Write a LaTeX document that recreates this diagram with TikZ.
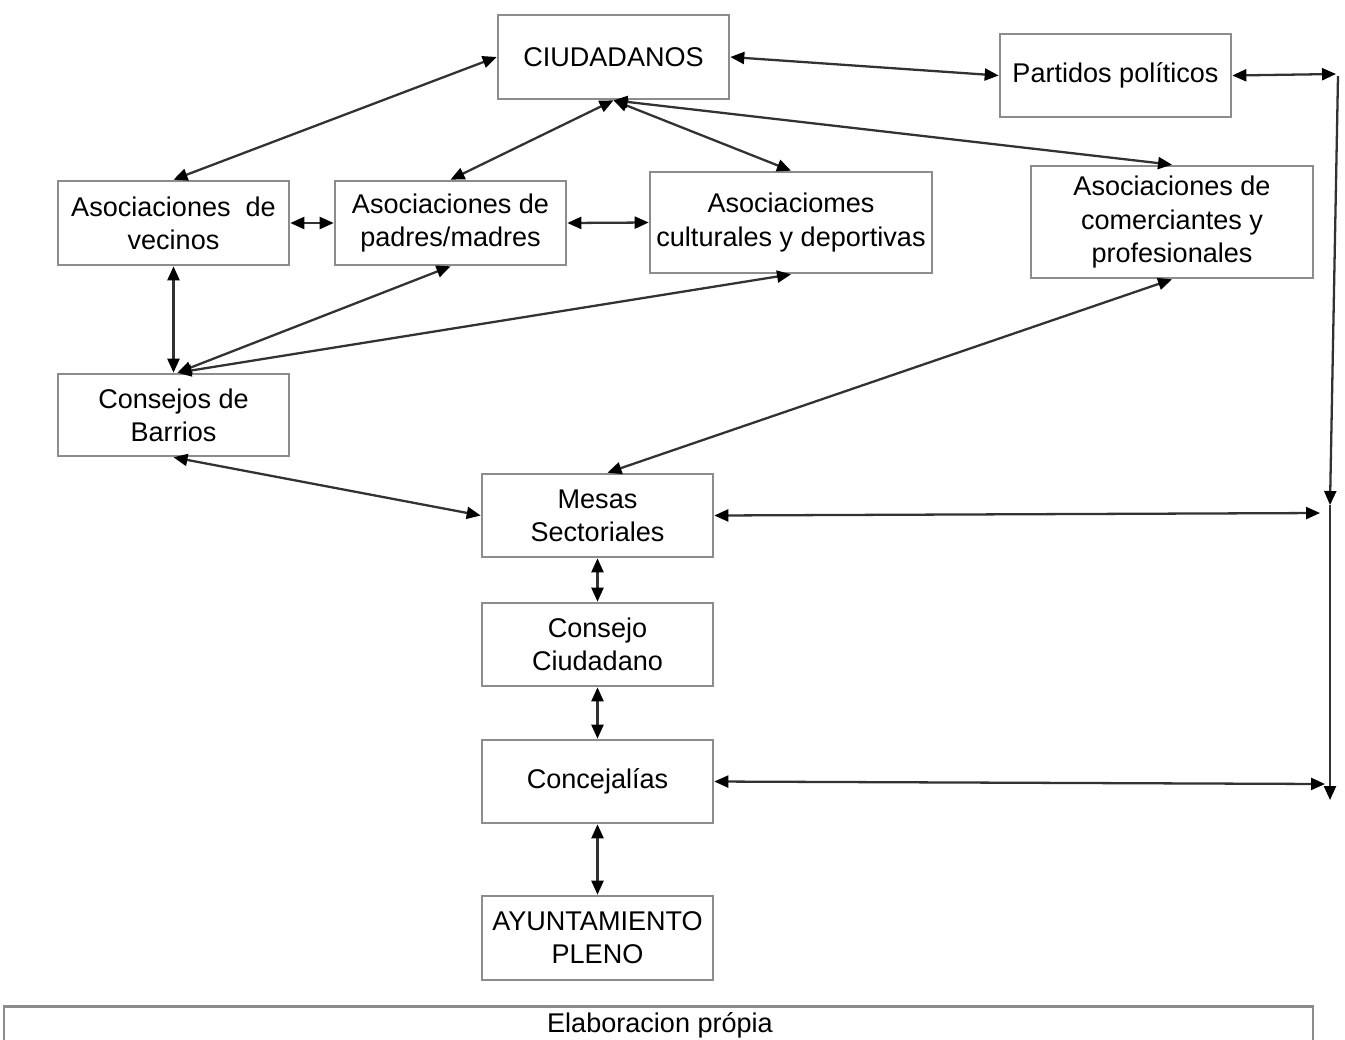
\documentclass[tikz,border=0pt]{standalone}
\usepackage{fontspec}
\setmainfont{Liberation Sans}
\usetikzlibrary{arrows.meta,calc}
\definecolor{boxgray}{RGB}{140,140,140}
\definecolor{linegray}{RGB}{50,50,50}
\tikzset{
  box/.style={draw=boxgray, line width=1.5pt, fill=white, align=center, inner sep=0pt,
    font=\fontsize{15.4}{18.8}\selectfont},
  link/.style={draw=linegray, line width=1.3pt, {Triangle[length=0.28cm,width=0.24cm,black]}-{Triangle[length=0.28cm,width=0.24cm,black]}},
  onelink/.style={draw=linegray, line width=1.3pt, -{Triangle[length=0.28cm,width=0.24cm,black]}}
}
\begin{document}
\begin{tikzpicture}[x=0.02cm,y=-0.02cm]
\clip (0,0) rectangle (1345,1039);
\fill[white] (0,0) rectangle (1345,1039);
\node[box, minimum width=231*0.02cm, minimum height=84*0.02cm] (ciud) at (613.5,57) {CIUDADANOS};
\node[box, minimum width=231*0.02cm, minimum height=83*0.02cm] (part) at (1115.5,75.5) {Partidos políticos};
\node[box, minimum width=231*0.02cm, minimum height=84*0.02cm] (vec) at (173.5,223) {Asociaciones\ \ de\\vecinos};
\node[box, minimum width=231*0.02cm, minimum height=84*0.02cm] (pad) at (450.5,223) {Asociaciones de\\padres/madres};
\node[box, minimum width=282*0.02cm, minimum height=101*0.02cm] (cult) at (791,222.5) {Asociaciomes\\culturales y deportivas};
\node[box, minimum width=282*0.02cm, minimum height=112*0.02cm] (com) at (1172,222) {Asociaciones de\\comerciantes y\\profesionales};
\node[box, minimum width=231*0.02cm, minimum height=82*0.02cm] (barr) at (173.5,415) {Consejos de\\Barrios};
\node[box, minimum width=231*0.02cm, minimum height=83*0.02cm] (mesas) at (597.5,515.5) {Mesas\\Sectoriales};
\node[box, minimum width=231*0.02cm, minimum height=83*0.02cm] (cc) at (597.5,644.5) {Consejo\\Ciudadano};
\node[box, minimum width=231*0.02cm, minimum height=83*0.02cm] (conc) at (597.5,781.5) {Concejalías};
\node[box, minimum width=231*0.02cm, minimum height=84*0.02cm] (ayun) at (597.5,938) {AYUNTAMIENTO\\PLENO};
\node[box, minimum width=1309*0.02cm, minimum height=80*0.02cm, anchor=north] (elab) at (658.5,1005) {};
\node[font=\fontsize{15.4}{18.8}\selectfont] (elabt) at (660,1025) {Elaboracion própia};

\coordinate (r1) at (1336,74);
\coordinate (r2) at (1338,76);
\coordinate (r3) at (1330,505);
\coordinate (r4) at (1330,800);
\coordinate (m1) at (1320,513);
\coordinate (c1) at (1325,784);

\draw[link] (ciud.west) -- (vec.north);
\draw[link] (ciud.east) -- (part.west);
\draw[link] (ciud.south) -- (pad.north);
\draw[link] (ciud.south) -- (cult.north);
\draw[link] (ciud.south) -- (com.north);
\draw[link] (vec.east) -- (pad.west);
\draw[link] (pad.east) -- (cult.west);
\draw[link] (vec.south) -- (barr.north);
\draw[link] ($(barr.north)+(4,0)$) -- (pad.south);
\draw[link] ($(barr.north)+(4,0)$) -- (cult.south);
\draw[link] (barr.south) -- (mesas.west);
\draw[link] ($(mesas.north)+(10,0)$) -- (com.south);
\draw[link] (mesas.south) -- (cc.north);
\draw[link] (cc.south) -- (conc.north);
\draw[link] (conc.south) -- (ayun.north);
\draw[link] (mesas.east) -- (m1);
\draw[link] (conc.east) -- (c1);
\draw[link] (part.east) -- (r1);
\draw[onelink] (r2) -- (r3);
\draw[onelink] (r3) -- (r4);
\end{tikzpicture}
\end{document}
